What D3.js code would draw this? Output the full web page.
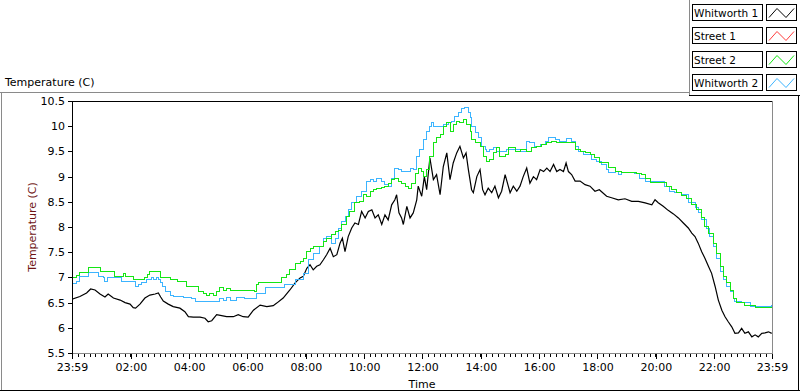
<!DOCTYPE html>
<html>
<head>
<meta charset="utf-8">
<script src="https://cdnjs.cloudflare.com/ajax/libs/d3/7.8.5/d3.min.js"></script>
<style>
  body { margin: 0; background: #fff; }
  text { font-family: "DejaVu Sans", Verdana, sans-serif; }
</style>
</head>
<body>
<script>
const width = 800;
const height = 392;

// hours since 23:59, temperature (C)
const whitworth1 = [[0.02,6.57],[0.27,6.62],[0.50,6.69],[0.64,6.77],[0.79,6.75],[0.96,6.67],[1.13,6.61],[1.24,6.67],[1.42,6.59],[1.65,6.55],[1.82,6.50],[1.99,6.47],[2.10,6.40],[2.18,6.39],[2.33,6.47],[2.50,6.59],[2.67,6.65],[2.85,6.67],[2.96,6.69],[3.04,6.61],[3.13,6.53],[3.30,6.47],[3.47,6.42],[3.70,6.39],[3.87,6.32],[3.99,6.22],[4.16,6.21],[4.39,6.21],[4.56,6.19],[4.67,6.12],[4.79,6.14],[4.96,6.26],[5.13,6.24],[5.30,6.22],[5.53,6.22],[5.70,6.26],[5.87,6.22],[6.04,6.21],[6.22,6.35],[6.45,6.45],[6.68,6.42],[6.90,6.44],[7.02,6.49],[7.24,6.59],[7.47,6.75],[7.65,6.89],[7.82,6.99],[7.93,7.02],[8.05,7.18],[8.16,7.25],[8.27,7.15],[8.39,7.22],[8.50,7.25],[8.62,7.35],[8.73,7.45],[8.85,7.58],[8.96,7.41],[9.08,7.45],[9.19,7.68],[9.27,7.78],[9.36,7.51],[9.47,7.81],[9.59,7.98],[9.70,8.08],[9.82,8.05],[9.93,8.31],[10.05,8.18],[10.16,8.31],[10.28,8.34],[10.39,8.18],[10.50,8.24],[10.62,8.05],[10.73,8.24],[10.84,8.14],[10.96,8.44],[11.07,8.54],[11.13,8.64],[11.21,8.28],[11.30,8.18],[11.36,8.05],[11.48,8.41],[11.59,8.18],[11.70,8.28],[11.82,8.54],[11.87,8.81],[11.99,8.61],[12.08,9.00],[12.16,8.74],[12.27,9.37],[12.39,8.94],[12.50,9.04],[12.62,8.64],[12.73,9.20],[12.85,9.47],[12.96,8.94],[13.07,9.27],[13.19,9.47],[13.30,9.60],[13.42,9.37],[13.51,9.47],[13.59,9.14],[13.70,8.74],[13.76,8.68],[13.88,9.00],[13.99,9.14],[14.08,8.74],[14.16,8.64],[14.27,8.77],[14.39,8.68],[14.50,8.81],[14.62,8.58],[14.73,8.71],[14.85,9.04],[14.93,8.87],[15.02,8.68],[15.13,8.81],[15.25,8.71],[15.36,8.81],[15.47,9.00],[15.59,9.17],[15.70,8.87],[15.82,9.00],[15.93,8.94],[16.05,9.14],[16.17,9.10],[16.28,9.17],[16.39,9.10],[16.51,9.24],[16.62,9.10],[16.73,9.14],[16.85,9.10],[16.94,9.27],[17.02,9.10],[17.13,9.04],[17.25,8.91],[17.42,8.91],[17.59,8.84],[17.76,8.81],[17.93,8.71],[18.08,8.74],[18.33,8.61],[18.50,8.58],[18.73,8.54],[18.96,8.56],[19.19,8.51],[19.42,8.51],[19.65,8.48],[19.88,8.44],[19.99,8.54],[20.10,8.48],[20.27,8.41],[20.44,8.33],[20.62,8.26],[20.79,8.18],[20.96,8.08],[21.13,7.98],[21.25,7.88],[21.36,7.81],[21.47,7.68],[21.59,7.51],[21.70,7.38],[21.82,7.22],[21.93,7.08],[22.05,6.82],[22.16,6.55],[22.28,6.35],[22.39,6.22],[22.50,6.12],[22.62,6.02],[22.73,5.89],[22.85,5.90],[22.96,5.99],[23.07,5.89],[23.19,5.92],[23.31,5.82],[23.42,5.86],[23.53,5.82],[23.65,5.89],[23.76,5.90],[23.88,5.92],[23.99,5.89]];

const street2 = [[0,7.00],[0.16,7.03],[0.27,7.10],[0.56,7.20],[0.96,7.12],[1.47,7.02],[1.76,7.07],[1.82,7.02],[2.10,6.96],[2.21,6.95],[2.47,7.00],[2.59,7.05],[2.67,7.12],[3.04,7.00],[3.36,6.96],[3.60,6.91],[3.93,6.82],[4.33,6.72],[4.50,6.69],[4.62,6.65],[4.73,6.69],[4.84,6.65],[4.96,6.72],[5.07,6.79],[5.19,6.75],[5.30,6.77],[5.42,6.74],[6.10,6.75],[6.27,6.72],[6.33,6.85],[6.39,6.89],[7.13,6.90],[7.19,6.99],[7.36,7.05],[7.47,7.15],[7.65,7.28],[7.82,7.32],[7.93,7.38],[8.05,7.51],[8.16,7.58],[8.27,7.61],[8.62,7.71],[8.73,7.78],[8.90,7.85],[9.02,7.91],[9.13,7.94],[9.25,8.05],[9.42,8.21],[9.53,8.31],[9.70,8.48],[9.87,8.51],[9.99,8.64],[10.10,8.61],[10.22,8.71],[10.33,8.74],[10.45,8.77],[10.62,8.79],[10.73,8.81],[10.84,8.87],[10.96,8.94],[11.07,8.97],[11.19,8.91],[11.30,8.87],[11.42,8.81],[11.53,8.77],[11.65,8.87],[11.76,9.07],[11.87,9.17],[11.99,9.10],[12.05,9.00],[12.16,9.14],[12.27,9.40],[12.39,9.67],[12.50,9.77],[12.62,9.83],[12.73,10.00],[12.85,10.07],[12.96,9.90],[13.07,10.03],[13.19,10.10],[13.30,10.07],[13.42,10.13],[13.53,10.03],[13.65,9.90],[13.70,9.73],[13.82,9.67],[13.99,9.60],[14.10,9.40],[14.22,9.30],[14.33,9.34],[14.45,9.47],[14.56,9.57],[14.67,9.40],[14.85,9.44],[14.96,9.57],[15.19,9.50],[15.36,9.54],[15.59,9.50],[15.76,9.57],[15.93,9.60],[16.10,9.64],[16.28,9.67],[16.45,9.70],[16.62,9.68],[17.13,9.67],[17.25,9.54],[17.42,9.50],[17.59,9.47],[17.76,9.44],[17.93,9.37],[18.10,9.27],[18.39,9.19],[18.62,9.10],[18.85,9.09],[19.36,9.07],[19.53,9.04],[19.65,8.97],[19.82,8.89],[20.39,8.81],[20.56,8.74],[20.73,8.68],[20.90,8.62],[21.08,8.56],[21.25,8.44],[21.42,8.34],[21.59,8.18],[21.70,8.01],[21.82,7.88],[21.99,7.68],[22.10,7.48],[22.22,7.22],[22.33,7.02],[22.45,6.89],[22.56,6.75],[22.67,6.59],[22.79,6.51],[23.07,6.45],[23.42,6.41],[24,6.42]];

const whitworth2 = [[0,6.87],[0.16,6.92],[0.27,7.02],[0.56,7.10],[0.90,7.02],[1.07,7.00],[1.13,6.92],[1.21,7.00],[1.70,6.92],[2.16,6.81],[2.27,6.85],[2.39,6.90],[2.56,6.95],[2.73,6.99],[2.79,6.95],[2.88,7.00],[2.96,6.95],[3.04,6.90],[3.11,6.81],[3.19,6.72],[3.36,6.65],[3.47,6.62],[3.82,6.61],[4.10,6.59],[4.22,6.52],[5.07,6.59],[5.19,6.55],[5.30,6.61],[5.42,6.54],[5.65,6.61],[5.93,6.59],[6.33,6.69],[6.62,6.79],[7.30,6.85],[7.65,6.95],[7.93,7.08],[8.10,7.35],[8.27,7.48],[8.50,7.61],[8.62,7.78],[8.73,7.81],[8.90,7.68],[9.02,7.78],[9.13,7.98],[9.25,8.11],[9.36,8.21],[9.47,8.34],[9.59,8.48],[9.76,8.61],[9.93,8.71],[10.10,8.91],[10.22,8.95],[10.33,8.91],[10.45,8.97],[10.62,8.91],[10.73,8.84],[10.84,8.81],[10.96,8.97],[11.07,9.17],[11.19,9.14],[11.30,9.10],[11.59,9.17],[11.70,9.14],[11.82,9.40],[11.93,9.54],[12.05,9.73],[12.16,9.90],[12.27,10.00],[12.33,10.08],[12.39,10.00],[12.73,10.03],[12.90,10.07],[13.02,10.10],[13.13,10.20],[13.24,10.27],[13.36,10.36],[13.47,10.38],[13.59,10.27],[13.65,10.17],[13.70,10.00],[13.82,9.87],[13.93,9.77],[14.05,9.60],[14.16,9.54],[14.22,9.50],[14.33,9.54],[14.45,9.57],[14.56,9.50],[14.90,9.54],[15.36,9.50],[15.59,9.70],[15.70,9.67],[15.87,9.60],[16.05,9.64],[16.22,9.70],[16.33,9.77],[16.45,9.78],[16.56,9.73],[16.73,9.70],[16.96,9.75],[17.13,9.70],[17.25,9.60],[17.36,9.50],[17.53,9.44],[17.82,9.34],[17.99,9.30],[18.16,9.24],[18.33,9.14],[18.39,9.08],[18.62,9.10],[18.73,9.04],[18.85,9.09],[19.30,9.07],[19.47,8.97],[19.65,8.91],[20.33,8.81],[20.50,8.71],[20.67,8.68],[20.90,8.64],[21.13,8.48],[21.36,8.38],[21.47,8.28],[21.59,8.14],[21.76,7.98],[21.87,7.81],[21.99,7.61],[22.10,7.38],[22.22,7.12],[22.33,6.95],[22.45,6.82],[22.56,6.72],[22.67,6.59],[22.73,6.52],[22.96,6.51],[23.25,6.42],[23.99,6.45],[24,6.45]];

const seriesNames = ['Whitworth 1', 'Street 1', 'Street 2', 'Whitworth 2'];
const seriesColors = ['#000000', '#ff3c3c', '#14e614', '#3cb4ff'];
const xTickLabels = ['23:59', '02:00', '04:00', '06:00', '08:00', '10:00', '12:00', '14:00', '16:00', '18:00', '20:00', '22:00', '23:59'];
const yTicks = [5.5, 6, 6.5, 7, 7.5, 8, 8.5, 9, 9.5, 10, 10.5];

const plot = {left: 72, right: 772, top: 101, bottom: 353};

const svg = d3.select('body')
    .append('svg')
    .attr('width', width)
    .attr('height', height)
    .style('display', 'block');

svg.append('rect').attr('width', width).attr('height', height).attr('fill', 'white');

const x = d3.scaleLinear().domain([0, 24]).range([plot.left, plot.right]);
const y = d3.scaleLinear().domain([5.5, 10.5]).range([plot.bottom, plot.top]);

// hours since 23:59 for a HH:MM label
const labelHours = xTickLabels.map((s, i) => {
    if (i === xTickLabels.length - 1) return 24;
    const [hh, mm] = s.split(':').map(Number);
    return ((hh * 60 + mm - (23 * 60 + 59) + 1440) % 1440) / 60;
});

// outer graph frame
const frame = svg.append('g').attr('shape-rendering', 'crispEdges');
frame.append('line').attr('x1', 0).attr('x2', 689).attr('y1', 92.5).attr('y2', 92.5).attr('stroke', '#8a8a8a');
frame.append('line').attr('x1', 1.5).attr('x2', 1.5).attr('y1', 92).attr('y2', 390).attr('stroke', '#8a8a8a');
frame.append('line').attr('x1', 0).attr('x2', 800).attr('y1', 390.5).attr('y2', 390.5).attr('stroke', '#000');
frame.append('line').attr('x1', 798.5).attr('x2', 798.5).attr('y1', 95).attr('y2', 391).attr('stroke', '#000');

svg.append('text')
    .attr('x', 5).attr('y', 86)
    .attr('font-size', 11)
    .attr('fill', '#000')
    .text('Temperature (C)');

// plot frame
frame.append('line').attr('x1', plot.left).attr('x2', plot.right).attr('y1', plot.top + 0.5).attr('y2', plot.top + 0.5).attr('stroke', '#000');
frame.append('line').attr('x1', plot.right + 0.5).attr('x2', plot.right + 0.5).attr('y1', plot.top).attr('y2', plot.bottom).attr('stroke', '#8a8a8a');
frame.append('line').attr('x1', plot.left).attr('x2', plot.right + 1).attr('y1', plot.bottom + 0.5).attr('y2', plot.bottom + 0.5).attr('stroke', '#8a8a8a');
frame.append('line').attr('x1', plot.left + 0.5).attr('x2', plot.left + 0.5).attr('y1', plot.top).attr('y2', plot.bottom + 1).attr('stroke', '#000');

// y axis
const yAxis = svg.append('g')
    .attr('transform', `translate(${plot.left},0)`)
    .attr('shape-rendering', 'crispEdges')
    .call(d3.axisLeft(y).tickValues(yTicks).tickSize(4).tickPadding(3).tickFormat(d3.format('~g')));
yAxis.select('.domain').remove();
yAxis.selectAll('text').attr('font-size', 11).attr('fill', '#000').attr('font-family', '"DejaVu Sans", Verdana, sans-serif');

// x axis: minor ticks every 12 minutes, major at labels
const minorTicks = d3.range(0, 24.001, 0.2);
svg.append('g')
    .attr('shape-rendering', 'crispEdges')
    .selectAll('line')
    .data(minorTicks)
    .enter()
    .append('line')
    .attr('x1', d => Math.round(x(d)) + 0.5)
    .attr('x2', d => Math.round(x(d)) + 0.5)
    .attr('y1', plot.bottom + 1)
    .attr('y2', plot.bottom + 4)
    .attr('stroke', '#000');

const xAxis = svg.append('g')
    .attr('transform', `translate(0,${plot.bottom + 1})`)
    .attr('shape-rendering', 'crispEdges')
    .call(d3.axisBottom(x).tickValues(labelHours).tickSize(5).tickPadding(4).tickFormat((d, i) => xTickLabels[i]));
xAxis.select('.domain').remove();
xAxis.selectAll('text').attr('font-size', 11).attr('fill', '#000').attr('font-family', '"DejaVu Sans", Verdana, sans-serif');

svg.append('text')
    .attr('x', (plot.left + plot.right) / 2)
    .attr('y', 388)
    .attr('text-anchor', 'middle')
    .attr('font-size', 11)
    .text('Time');

svg.append('text')
    .attr('transform', `translate(36,${(plot.top + plot.bottom) / 2}) rotate(-90)`)
    .attr('text-anchor', 'middle')
    .attr('font-size', 11)
    .attr('fill', '#6e1414')
    .text('Temperature (C)');

// data lines
svg.append('clipPath').attr('id', 'plotclip')
    .append('rect')
    .attr('x', plot.left + 1).attr('y', plot.top + 1)
    .attr('width', plot.right - plot.left - 1).attr('height', plot.bottom - plot.top - 1);

const lineLinear = d3.line().x(d => x(d[0])).y(d => y(d[1]));
const lineStep = d3.line().curve(d3.curveStepAfter).x(d => x(d[0])).y(d => y(d[1]));

const lines = svg.append('g').attr('clip-path', 'url(#plotclip)');
lines.append('path').datum(whitworth1)
    .attr('d', lineLinear).attr('fill', 'none').attr('stroke', seriesColors[0]).attr('stroke-width', 1.2);
lines.append('path').datum(whitworth2)
    .attr('d', lineStep).attr('fill', 'none').attr('stroke', seriesColors[3]).attr('stroke-width', 1)
    .attr('shape-rendering', 'crispEdges');
lines.append('path').datum(street2)
    .attr('d', lineStep).attr('fill', 'none').attr('stroke', seriesColors[2]).attr('stroke-width', 1)
    .attr('shape-rendering', 'crispEdges');

// legend panel
const legend = svg.append('g').attr('shape-rendering', 'crispEdges');
legend.append('line').attr('x1', 689.5).attr('x2', 689.5).attr('y1', 0).attr('y2', 95).attr('stroke', '#8a8a8a');
legend.append('line').attr('x1', 689).attr('x2', 800).attr('y1', 95.5).attr('y2', 95.5).attr('stroke', '#000');

const rowY = d3.scaleLinear().domain([0, 1]).range([3.5, 27]);
const rows = legend.selectAll('.row')
    .data(seriesNames)
    .enter()
    .append('g')
    .attr('transform', (d, i) => `translate(0,${Math.round(rowY(i)) + 0.5})`);
rows.append('rect')
    .attr('x', 692.5).attr('y', 0).attr('width', 70).attr('height', 16)
    .attr('fill', 'white').attr('stroke', '#000');
rows.append('text')
    .attr('x', 694).attr('y', 12.5)
    .attr('font-size', 10.5)
    .attr('fill', '#000')
    .text(d => d);
rows.append('rect')
    .attr('x', 766.5).attr('y', 0).attr('width', 30).attr('height', 16)
    .attr('fill', 'white').attr('stroke', '#000');
rows.append('path')
    .attr('d', 'M769,13 L777,4 L786,13 L794,4')
    .attr('fill', 'none')
    .attr('shape-rendering', 'auto')
    .attr('stroke', (d, i) => seriesColors[i]);
</script>
</body>
</html>
